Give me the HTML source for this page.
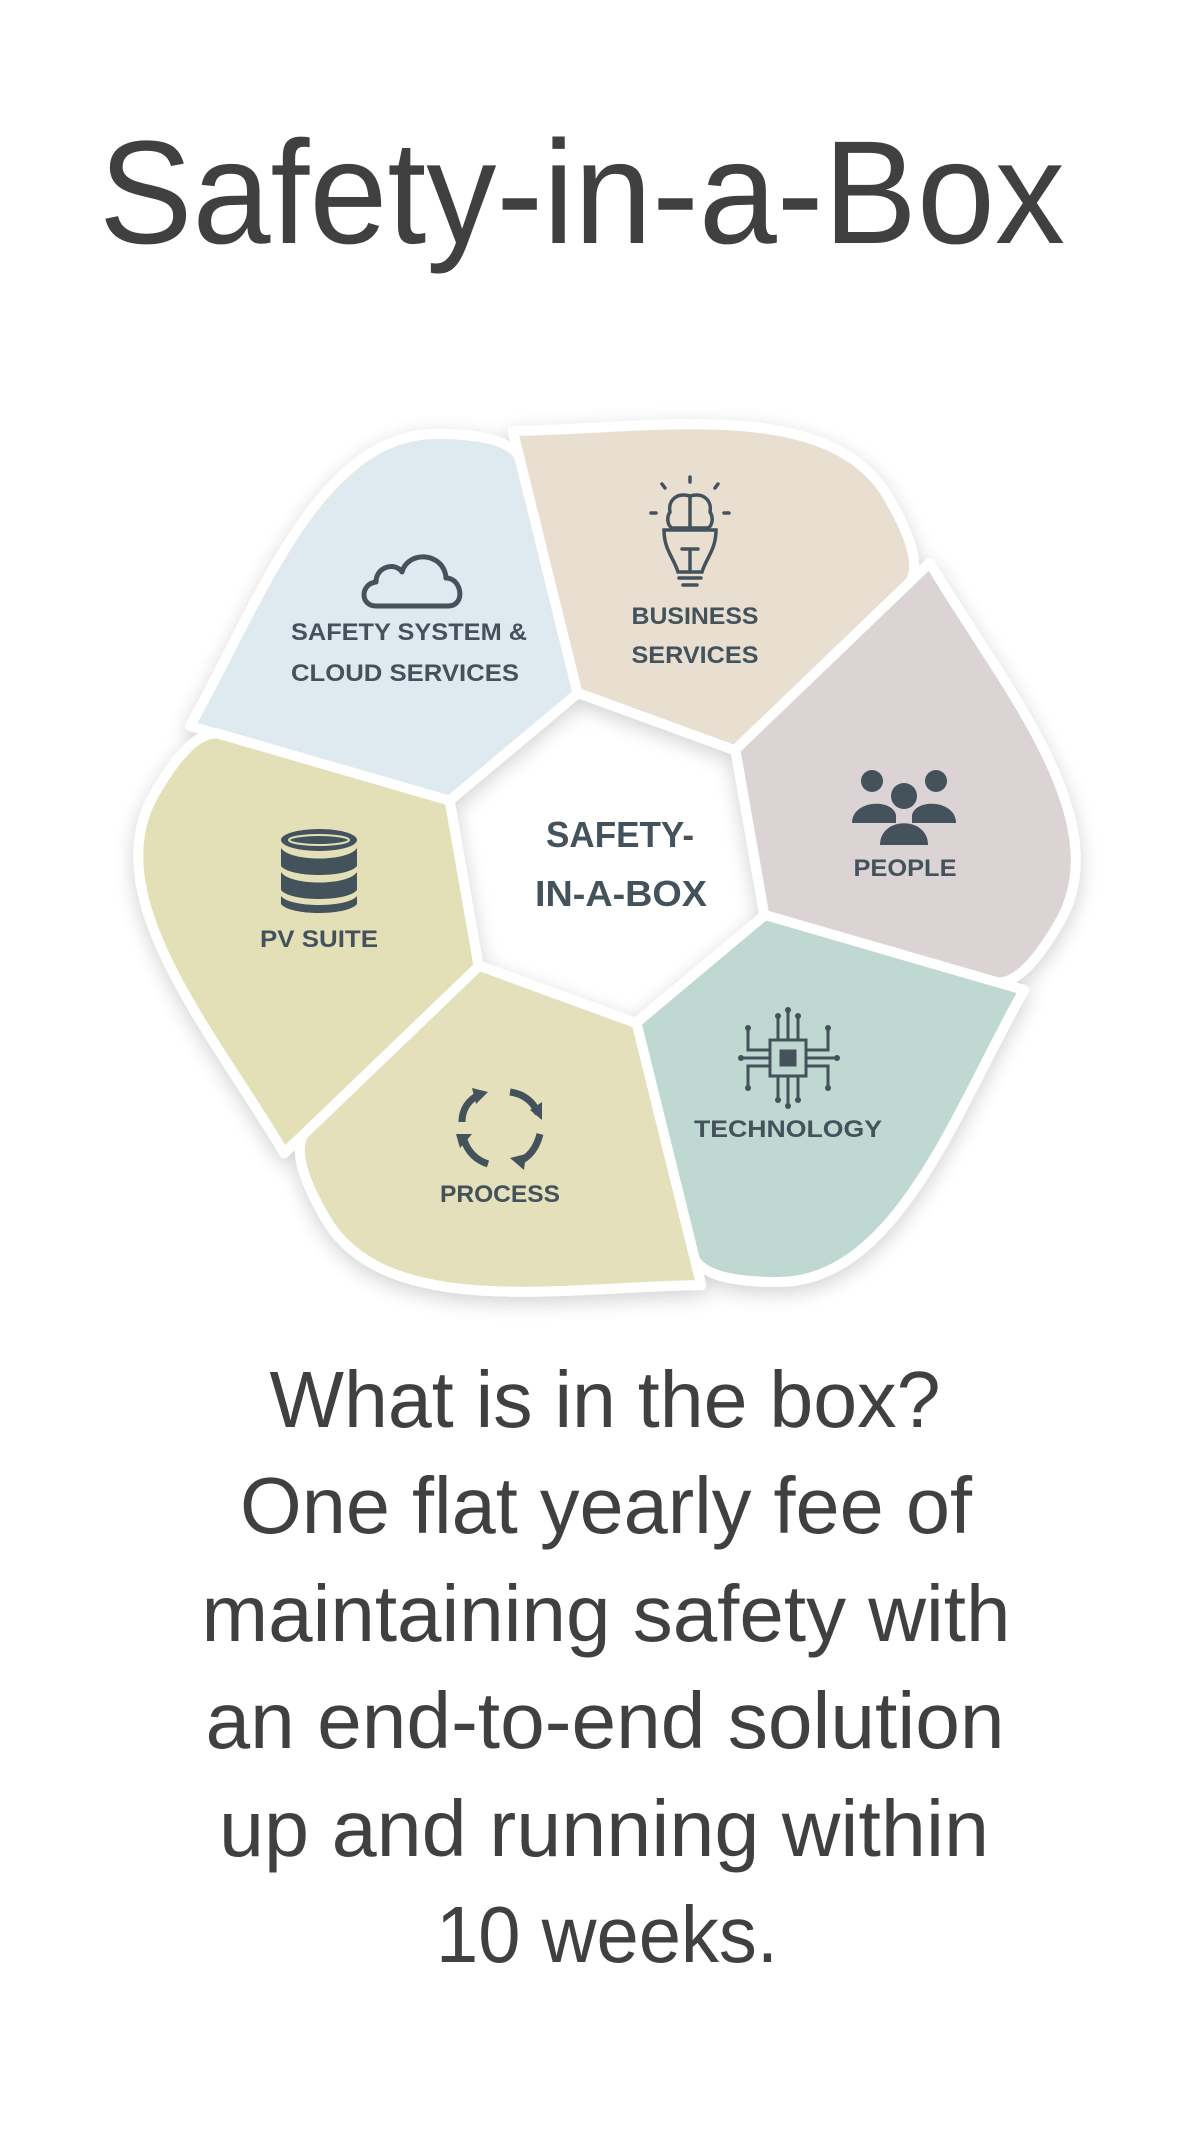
<!DOCTYPE html>
<html><head><meta charset="utf-8"><style>
html,body{margin:0;padding:0;background:#fff;}
svg{display:block;}
</style></head><body>
<svg width="1200" height="2134" viewBox="0 0 1200 2134" xmlns="http://www.w3.org/2000/svg">
<defs>
<filter id="sh" x="-20%" y="-20%" width="140%" height="140%">
<feGaussianBlur in="SourceAlpha" stdDeviation="10"/>
<feOffset dx="0" dy="6"/>
<feComponentTransfer><feFuncA type="linear" slope="0.18"/></feComponentTransfer>
<feMerge><feMergeNode/><feMergeNode in="SourceGraphic"/></feMerge>
</filter>
<path id="seg" d="M -29,-165 L -158,-57 L -417,-132 C -350,-250 -290,-425 -170,-424 C -120,-424 -95,-415 -87,-400 Z"/>
</defs>
<text x="99" y="243" font-family="Liberation Sans, sans-serif" font-size="147" fill="#404040" textLength="966" lengthAdjust="spacingAndGlyphs">Safety-in-a-Box</text>

<g transform="translate(607,858)" filter="url(#sh)" stroke="#fff" stroke-width="10" stroke-linejoin="round">
<use href="#seg" fill="#deeaf0"/>
<use href="#seg" fill="#e8dfd0" transform="rotate(60)"/>
<use href="#seg" fill="#dbd3d4" transform="rotate(120)"/>
<use href="#seg" fill="#c0d8d2" transform="rotate(180)"/>
<use href="#seg" fill="#e3e0bb" transform="rotate(240)"/>
<use href="#seg" fill="#e3e0b8" transform="rotate(300)"/>
</g>

<g font-family="Liberation Sans, sans-serif" font-weight="bold" fill="#44525c" text-anchor="middle">
<text x="620" y="847" font-size="36" textLength="148" lengthAdjust="spacingAndGlyphs">SAFETY-</text>
<text x="621" y="906" font-size="36" textLength="172" lengthAdjust="spacingAndGlyphs">IN-A-BOX</text>
<text x="409" y="640" font-size="24" textLength="236" lengthAdjust="spacingAndGlyphs">SAFETY SYSTEM &amp;</text>
<text x="405" y="681" font-size="24" textLength="228" lengthAdjust="spacingAndGlyphs">CLOUD SERVICES</text>
<text x="695" y="624" font-size="24" textLength="127" lengthAdjust="spacingAndGlyphs">BUSINESS</text>
<text x="695" y="663" font-size="24" textLength="127" lengthAdjust="spacingAndGlyphs">SERVICES</text>
<text x="905" y="876" font-size="24" textLength="103" lengthAdjust="spacingAndGlyphs">PEOPLE</text>
<text x="319" y="947" font-size="24" textLength="118" lengthAdjust="spacingAndGlyphs">PV SUITE</text>
<text x="788" y="1137" font-size="24" textLength="188" lengthAdjust="spacingAndGlyphs">TECHNOLOGY</text>
<text x="500" y="1202" font-size="24" textLength="120" lengthAdjust="spacingAndGlyphs">PROCESS</text>
</g>

<!-- cloud icon -->
<path d="M376,606 C360,606 360,584 376,582 C376,566 396,562 402,572 C408,550 444,552 446,578 C462,578 466,606 448,606 Z" fill="none" stroke="#44525c" stroke-width="5" stroke-linejoin="round"/>
<!-- bulb icon -->
<g fill="none" stroke="#44525c" stroke-width="3.5" stroke-linecap="round">
<line x1="690" y1="477" x2="690" y2="482"/><line x1="662" y1="484" x2="665" y2="488"/><line x1="718" y1="484" x2="715" y2="488"/>
<line x1="651" y1="513" x2="656" y2="513"/><line x1="724" y1="513" x2="729" y2="513"/>
<path d="M690,496 C675,492 668,502 670,512 C666,518 668,526 672,528 L708,528 C712,526 714,518 710,512 C712,502 705,492 690,496 Z M690,496 L690,528"/>
<path d="M664,530 L716,530 C716,550 706,558 702,572 L678,572 C674,558 664,550 664,530 Z"/>
<path d="M682,549 L698,549 M690,549 L690,572 M679,578 L701,578 M683,585 L697,585"/>
</g>
<!-- people icon -->
<g fill="#44525c">
<circle cx="872" cy="781" r="11"/><circle cx="936" cy="781" r="11"/>
<path d="M852,823 C852,800 892,798 896,815 L896,823 Z"/><path d="M912,815 C916,798 956,800 956,823 L912,823 Z"/>
<circle cx="904" cy="796" r="13"/>
<path d="M880,845 C880,816 928,816 928,845 Z"/>
</g>
<!-- database icon -->
<g fill="#44525c">
<ellipse cx="319" cy="840" rx="38" ry="11"/>
<path d="M281,848 C290,862 348,862 357,848 L357,866 C348,878 290,878 281,866 Z"/>
<path d="M281,872 C290,886 348,886 357,872 L357,890 C348,902 290,902 281,890 Z"/>
<path d="M281,896 C290,908 348,908 357,896 L357,904 C348,916 290,916 281,904 Z"/>
</g>
<ellipse cx="319" cy="840" rx="30" ry="5" fill="#44525c" stroke="#e3e0b8" stroke-width="2"/>
<!-- chip icon -->
<g fill="none" stroke="#44525c" stroke-width="3">
<rect x="770" y="1040" width="36" height="36"/>
<rect x="781" y="1051" width="14" height="14" fill="#44525c"/>
<path d="M778,1040 L778,1018 M788,1040 L788,1012 M798,1040 L798,1018 M778,1076 L778,1098 M788,1076 L788,1104 M798,1076 L798,1098 M770,1050 L748,1050 L748,1030 M770,1066 L748,1066 L748,1086 M806,1050 L828,1050 L828,1030 M806,1066 L828,1066 L828,1086 M770,1058 L742,1058 M806,1058 L836,1058"/>
</g>
<g fill="#44525c">
<circle cx="778" cy="1016" r="3"/><circle cx="788" cy="1010" r="3"/><circle cx="798" cy="1016" r="3"/>
<circle cx="778" cy="1100" r="3"/><circle cx="788" cy="1106" r="3"/><circle cx="798" cy="1100" r="3"/>
<circle cx="748" cy="1028" r="3"/><circle cx="748" cy="1088" r="3"/><circle cx="828" cy="1028" r="3"/><circle cx="828" cy="1088" r="3"/>
<circle cx="741" cy="1058" r="3"/><circle cx="837" cy="1058" r="3"/>
</g>
<!-- process icon -->
<g fill="none" stroke="#44525c" stroke-width="7">
<path d="M480,1094 C468,1100 462,1110 462,1122"/>
<path d="M510,1092 C524,1094 534,1102 538,1114"/>
<path d="M540,1134 C536,1150 528,1158 518,1162"/>
<path d="M464,1140 C468,1152 476,1160 488,1164"/>
</g>
<g fill="#44525c">
<path d="M472,1088 L488,1092 L476,1104 Z"/>
<path d="M542,1102 L542,1120 L530,1110 Z"/>
<path d="M510,1158 L524,1170 L526,1154 Z"/>
<path d="M456,1134 L472,1134 L460,1148 Z"/>
</g>

<g font-family="Liberation Sans, sans-serif" font-size="80" fill="#404040" text-anchor="middle">
<text x="605" y="1427" textLength="671" lengthAdjust="spacingAndGlyphs">What is in the box?</text>
<text x="606" y="1533" textLength="732" lengthAdjust="spacingAndGlyphs">One flat yearly fee of</text>
<text x="606" y="1641" textLength="809" lengthAdjust="spacingAndGlyphs">maintaining safety with</text>
<text x="605" y="1748" textLength="799" lengthAdjust="spacingAndGlyphs">an end-to-end solution</text>
<text x="604" y="1856" textLength="770" lengthAdjust="spacingAndGlyphs">up and running within</text>
<text x="607" y="1962" textLength="342" lengthAdjust="spacingAndGlyphs">10 weeks.</text>
</g>
</svg>
</body></html>
